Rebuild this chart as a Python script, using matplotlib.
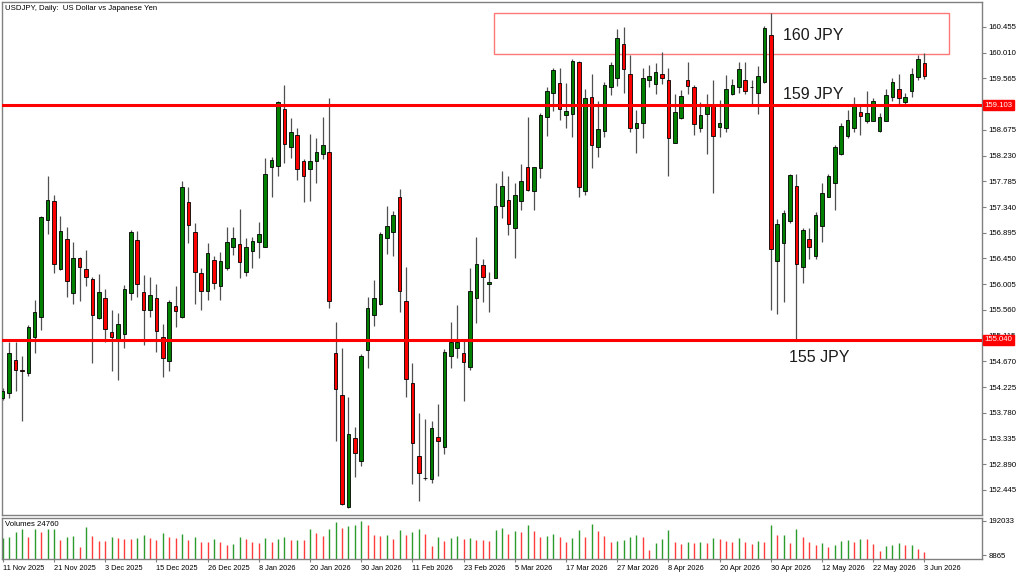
import numpy as np
import matplotlib.pyplot as plt
from matplotlib.patches import Rectangle
from matplotlib.transforms import blended_transform_factory

plt.rcParams['font.family'] = ['Liberation Sans', 'DejaVu Sans']

# daily USDJPY candles, 11 Nov 2025 .. 3 Jun 2026 (one entry per trading day)
opens = [154.03, 154.12, 154.69, 154.52, 154.47, 155.09, 155.43, 157.11, 157.44, 156.27,
         156.78, 155.85, 156.46, 156.26, 156.09, 155.42, 155.77, 155.17, 155.05, 155.14,
         155.85, 156.77, 155.87, 155.56, 155.76, 155.10, 154.68, 155.62, 155.44, 157.42,
         156.90, 156.19, 155.89, 156.42, 155.97, 156.29, 156.65, 156.70, 156.22, 156.58,
         156.73, 156.65, 158.03, 158.05, 159.03, 158.38, 158.59, 158.13, 157.99, 158.14,
         158.26, 158.30, 154.81, 154.09, 152.15, 153.34, 152.95, 154.87, 155.47, 155.66,
         156.80, 156.90, 157.52, 155.72, 154.29, 153.03, 152.66, 152.63, 153.37, 153.19,
         154.77, 154.90, 154.82, 154.57, 155.76, 156.33, 156.00, 156.12, 157.35, 157.46,
         156.98, 157.45, 158.04, 157.62, 158.01, 158.89, 159.31, 159.48, 158.94, 158.95,
         159.85, 157.61, 159.25, 158.38, 158.66, 159.42, 159.58, 160.16, 159.64, 158.70,
         158.79, 159.54, 159.46, 159.65, 159.54, 158.45, 158.88, 159.54, 159.41, 158.71,
         158.95, 159.12, 158.73, 158.71, 159.30, 159.41, 159.53, 159.42, 159.32, 159.50,
         160.32, 156.41, 156.72, 157.10, 157.70, 156.31, 156.79, 156.50, 157.02, 157.52,
         157.76, 158.26, 158.57, 158.70, 158.98, 158.82, 158.83, 158.66, 158.83, 159.24,
         159.39, 159.16, 159.34, 159.59, 159.84]
highs = [154.21, 155.01, 155.01, 154.76, 155.30, 155.73, 157.19, 157.88, 157.55, 157.19,
         157.00, 156.74, 156.47, 156.60, 156.13, 156.18, 155.92, 155.56, 155.50, 155.99,
         156.95, 156.93, 156.16, 156.13, 156.00, 155.31, 155.74, 155.98, 157.79, 157.69,
         157.06, 156.28, 156.72, 156.50, 156.57, 157.00, 157.00, 157.30, 156.80, 156.82,
         157.08, 158.18, 158.20, 159.18, 159.45, 158.88, 158.71, 158.17, 158.60, 158.53,
         158.89, 159.22, 155.35, 154.90, 154.06, 153.54, 154.79, 155.79, 156.08, 156.91,
         157.35, 157.27, 157.66, 156.30, 154.65, 153.77, 153.67, 153.64, 153.93, 154.88,
         155.35, 155.65, 155.02, 156.28, 156.83, 156.44, 156.22, 157.75, 157.97, 157.87,
         157.76, 158.08, 158.90, 158.04, 158.96, 159.42, 159.74, 159.74, 159.49, 159.90,
         159.87, 159.39, 159.65, 159.18, 159.51, 159.85, 160.42, 160.45, 159.97, 159.01,
         159.74, 159.80, 159.84, 160.02, 159.74, 159.29, 159.36, 159.85, 159.45, 159.15,
         159.30, 159.53, 159.20, 159.62, 159.56, 159.85, 159.85, 159.53, 159.78, 160.47,
         160.70, 157.13, 157.29, 157.91, 157.92, 156.98, 156.97, 157.26, 157.76, 157.91,
         158.41, 158.79, 159.01, 159.24, 159.08, 159.34, 159.22, 158.96, 159.38, 159.58,
         159.64, 159.31, 159.75, 159.97, 160.00]
lows = [154.00, 154.03, 154.15, 153.63, 154.42, 154.81, 155.21, 156.87, 156.19, 156.25,
        155.79, 155.66, 155.72, 155.97, 154.65, 155.40, 155.01, 154.51, 154.35, 154.90,
        155.73, 155.79, 154.95, 155.44, 154.84, 154.40, 154.51, 155.27, 155.42, 156.71,
        155.66, 155.56, 155.73, 155.92, 155.74, 156.25, 156.51, 156.11, 156.15, 156.29,
        156.45, 156.64, 157.51, 157.88, 158.10, 158.18, 157.81, 157.42, 157.45, 157.75,
        158.17, 155.60, 153.30, 152.19, 152.13, 152.67, 152.86, 154.55, 155.29, 155.65,
        156.52, 156.50, 155.52, 154.05, 152.55, 152.26, 152.62, 152.56, 152.69, 153.07,
        154.55, 154.72, 153.99, 154.52, 155.34, 155.70, 155.53, 156.11, 157.15, 156.86,
        156.45, 157.28, 157.62, 157.28, 157.85, 158.57, 159.00, 158.85, 158.71, 158.56,
        157.51, 157.55, 158.01, 158.20, 158.56, 159.28, 159.44, 159.31, 158.64, 158.27,
        158.53, 159.42, 159.29, 159.46, 157.88, 158.44, 158.86, 159.29, 158.59, 158.63,
        158.26, 157.59, 158.55, 158.64, 159.28, 159.32, 159.29, 159.12, 158.95, 159.48,
        155.56, 155.49, 155.70, 157.07, 155.04, 156.02, 156.44, 156.44, 156.74, 157.51,
        157.29, 158.24, 158.54, 158.64, 158.59, 158.80, 158.82, 158.64, 158.82, 159.17,
        159.11, 159.11, 159.25, 159.54, 159.55]
closes = [154.15, 154.81, 154.52, 154.51, 155.26, 155.52, 157.16, 157.46, 156.35, 156.93,
          156.06, 156.46, 156.30, 156.13, 155.47, 155.87, 155.23, 155.10, 155.31, 155.92,
          156.90, 156.00, 155.56, 155.82, 155.20, 154.72, 155.69, 155.54, 157.69, 157.03,
          156.22, 155.88, 156.54, 156.03, 156.41, 156.74, 156.81, 156.39, 156.65, 156.75,
          156.87, 157.91, 158.15, 159.16, 158.43, 158.63, 157.99, 157.88, 158.14, 158.29,
          158.41, 155.72, 154.20, 152.20, 153.41, 153.08, 154.76, 155.59, 155.77, 156.87,
          157.02, 157.21, 155.88, 154.37, 153.25, 152.73, 152.65, 153.51, 153.29, 154.84,
          155.00, 155.01, 154.66, 155.89, 156.35, 156.13, 156.05, 157.35, 157.70, 157.04,
          157.54, 157.79, 157.63, 158.04, 158.94, 159.35, 159.71, 159.04, 159.00, 159.87,
          157.69, 159.22, 158.41, 158.69, 159.45, 159.79, 160.26, 159.72, 158.70, 158.80,
          159.58, 159.61, 159.68, 159.58, 158.54, 158.98, 159.26, 159.44, 158.77, 158.94,
          159.13, 158.57, 158.80, 159.38, 159.45, 159.73, 159.35, 159.41, 159.61, 160.44,
          156.61, 157.05, 157.24, 157.89, 156.35, 156.94, 156.65, 157.21, 157.59, 157.88,
          158.38, 158.75, 158.85, 159.08, 158.92, 158.97, 159.17, 158.90, 159.27, 159.51,
          159.22, 159.24, 159.65, 159.90, 159.61]
volumes = [98600, 107600, 132800, 148900, 107600, 148900, 132800, 148900, 150700, 89700,
           107600, 111200, 52000, 157900, 111200, 84300, 82500, 107600, 98600, 95100,
           93300, 98600, 116600, 98600, 89700, 125600, 104000, 98600, 120200, 89700,
           104000, 80700, 77100, 93300, 77100, 62700, 68100, 107600, 95100, 80700,
           73500, 98600, 80700, 95100, 107600, 89700, 91500, 87900, 147100, 125600,
           111200, 148900, 184900, 156100, 165100, 168700, 192000, 168700, 116600, 113000,
           116600, 95100, 143500, 116600, 134600, 148900, 122000, 57400, 107600, 86100,
           98600, 111200, 95100, 98600, 89700, 87900, 86100, 141800, 152500, 122000,
           138200, 132800, 168700, 138200, 107600, 109400, 122000, 104000, 80700, 98600,
           141800, 107600, 175900, 138200, 113000, 80700, 82500, 89700, 107600, 116600,
           104000, 35800, 73500, 95100, 141800, 80700, 66300, 77100, 75300, 78900,
           73500, 98600, 95100, 86100, 77100, 98600, 80700, 66300, 84300, 80700,
           168700, 116600, 118400, 71700, 150700, 104000, 77100, 60900, 71700, 52000,
           64500, 86100, 87900, 80700, 95100, 93300, 66300, 30400, 57400, 62700,
           73500, 60900, 64500, 39400, 24760]

date_labels = ['11 Nov 2025', '21 Nov 2025', '3 Dec 2025', '15 Dec 2025', '26 Dec 2025',
               '8 Jan 2026', '20 Jan 2026', '30 Jan 2026', '11 Feb 2026', '23 Feb 2026',
               '5 Mar 2026', '17 Mar 2026', '27 Mar 2026', '8 Apr 2026', '20 Apr 2026',
               '30 Apr 2026', '12 May 2026', '22 May 2026', '3 Jun 2026']
date_every = 8  # a date label every 8 bars

price_ticks = [160.455, 160.010, 159.565, 158.675, 158.230, 157.785, 157.340, 156.895,
               156.450, 156.005, 155.560, 155.115, 154.670, 154.225, 153.780, 153.335,
               152.890, 152.445]
level_lines = [159.103, 155.040]
level_texts = ['160 JPY', '159 JPY', '155 JPY']
level_text_prices = [160.30, 159.28, 154.73]
level_text_bars = [121.9, 121.9, 122.9]
zone_bars = (76.8, 147.9)      # 160 JPY box, left/right bar
zone_prices = (159.99, 160.69)  # bottom/top price
vol_ticks = [8865, 192033]

W, H = 1024, 576
fig = plt.figure(figsize=(W / 100, H / 100), dpi=100)
ax = fig.add_axes([2 / W, 1 - 515 / H, 980 / W, 513 / H])
axv = fig.add_axes([2 / W, 1 - 559.3 / H, 980 / W, 41.8 / H])

n = len(opens)
x = np.arange(n)
o = np.array(opens); c = np.array(closes)
hi = np.array(highs); lo = np.array(lows)
up = c >= o

# candles
ax.vlines(x, lo, hi, color='#505050', lw=0.9, zorder=2)
body_lo = np.minimum(o, c)
body_h = np.maximum(np.abs(c - o), 0.004)
ax.bar(x, body_h, bottom=body_lo, width=0.56,
       color=np.where(up, '#008000', '#ff0000'), edgecolor='black', linewidth=0.6, zorder=3)

for lvl in level_lines:
    ax.axhline(lvl, color='#ff0000', lw=2.2, zorder=4)

ax.add_patch(Rectangle((zone_bars[0], zone_prices[0]), zone_bars[1] - zone_bars[0],
                       zone_prices[1] - zone_prices[0], fill=False,
                       edgecolor='#ff7878', lw=1.0, zorder=1))

for t, p, b in zip(level_texts, level_text_prices, level_text_bars):
    ax.text(b, p, t, fontsize=11.5, color='#1a1a1a', va='center', ha='left', zorder=5)

ax.set_xlim(-0.11, 153.0)
ax.set_ylim(152.012, 160.887)
ax.set_xticks([])
ax.yaxis.tick_right()
ax.set_yticks(price_ticks)
ax.set_yticklabels(['%.3f' % p for p in price_ticks])
ax.tick_params(axis='y', direction='out', length=3, width=0.8, colors='#808080',
               labelcolor='black', labelsize=5.6, pad=1.5)

# red price labels on the scale for the two lines
tr = blended_transform_factory(ax.transAxes, ax.transData)
for lvl in level_lines:
    ax.text(1.0025, lvl, '%.3f' % lvl, transform=tr, fontsize=5.6, color='white',
            va='center', ha='left', zorder=6, clip_on=False,
            bbox=dict(boxstyle='square,pad=0.18', fc='#ff0000', ec='#ff0000'))

# volumes pane
vcol = ['#2b9b2b'] + ['#2b9b2b' if volumes[i] > volumes[i - 1] else '#ff3b3b'
                      for i in range(1, n)]
vmin, vmax = -14299, 210888
axv.vlines(x, vmin, volumes, colors=vcol, lw=1.0)
axv.set_xlim(-0.11, 153.0)
axv.set_ylim(vmin, vmax)
axv.yaxis.tick_right()
axv.set_yticks(vol_ticks)
axv.set_yticklabels([str(v) for v in vol_ticks])
axv.tick_params(axis='y', direction='out', length=3, width=0.8, colors='#808080',
                labelcolor='black', labelsize=5.6, pad=1.5)
tick_pos = np.arange(len(date_labels)) * date_every
axv.set_xticks(tick_pos)
axv.set_xticklabels(date_labels)
axv.tick_params(axis='x', direction='out', length=2.5, width=0.8, colors='#808080',
                labelcolor='black', labelsize=5.3, pad=1.5)
for lab in axv.get_xticklabels():
    lab.set_horizontalalignment('left')

for a in (ax, axv):
    for s in a.spines.values():
        s.set_color('#808080')
        s.set_linewidth(1.0)

fig.text(5 / W, 1 - 8 / H, 'USDJPY, Daily:  US Dollar vs Japanese Yen',
         fontsize=5.6, va='center', ha='left')
fig.text(5 / W, 1 - 524 / H, 'Volumes 24760', fontsize=5.6, va='center', ha='left')

fig.savefig('out.png', dpi=100, facecolor='white')
